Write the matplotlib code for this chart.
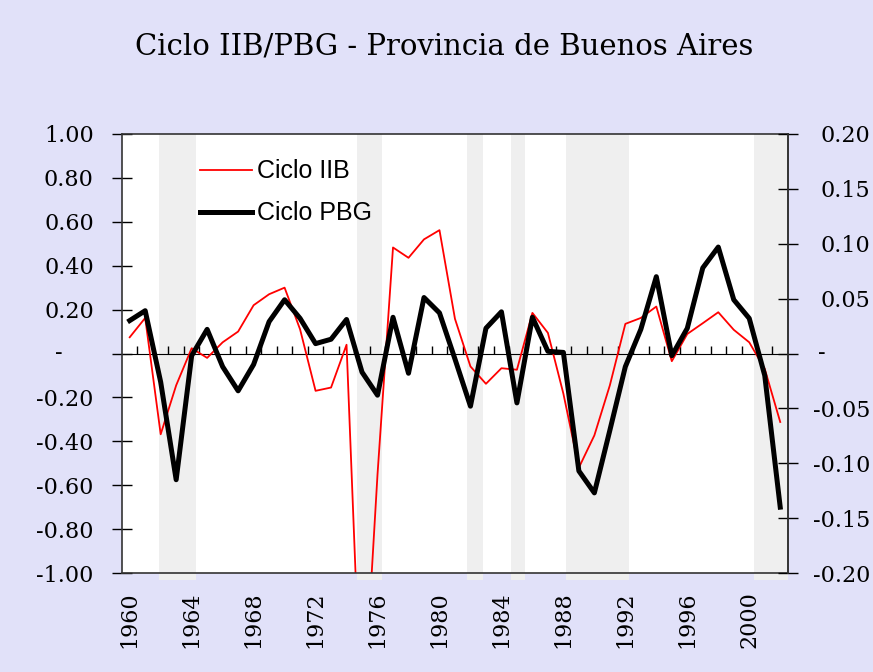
import numpy as np
import matplotlib.pyplot as plt
from matplotlib.transforms import ScaledTranslation

# data
years = list(range(1960, 2003))
ciclo_iib = [0.074, 0.162, -0.368, -0.145, 0.024, -0.02, 0.051, 0.10, 0.22, 0.27,
             0.30, 0.11, -0.17, -0.155, 0.04, -1.75, -0.55, 0.483, 0.436, 0.52,
             0.562, 0.158, -0.059, -0.138, -0.067, -0.074, 0.185, 0.094, -0.183, -0.52,
             -0.373, -0.145, 0.135, 0.162, 0.214, -0.035, 0.089, 0.138, 0.188, 0.108,
             0.051, -0.07, -0.312]
ciclo_pbg = [0.030, 0.039, -0.026, -0.115, -0.002, 0.022, -0.012, -0.034, -0.010, 0.029,
             0.049, 0.032, 0.009, 0.013, 0.031, -0.017, -0.038, 0.033, -0.018, 0.051,
             0.037, -0.005, -0.048, 0.023, 0.038, -0.045, 0.033, 0.002, 0.001, -0.107,
             -0.127, -0.070, -0.012, 0.022, 0.070, -0.002, 0.023, 0.078, 0.097, 0.049,
             0.032, -0.020, -0.140]

# shaded periods
band_start = [1961.9, 1974.65, 1981.8, 1984.6, 1988.15, 2000.3]
band_end = [1964.3, 1976.3, 1982.8, 1985.5, 1992.25, 2002.5]

left_ticks = [-1.0, -0.8, -0.6, -0.4, -0.2, 0.0, 0.2, 0.4, 0.6, 0.8, 1.0]
right_ticks = [-0.20, -0.15, -0.10, -0.05, 0.0, 0.05, 0.10, 0.15, 0.20]
year_ticks = list(range(1960, 2001, 4))

bg = '#E1E1F9'
plt.rcParams['font.family'] = 'DejaVu Serif'


def fmt(v):
    return '-' if abs(v) < 1e-9 else '%.2f' % v


fig = plt.figure(figsize=(8.73, 6.72), dpi=100, facecolor=bg)
ax = fig.add_axes([0.1397, 0.1473, 0.7629, 0.6533])
ax.set_facecolor('white')

for s, e in zip(band_start, band_end):
    ax.axvspan(s, e, ymin=-0.016, ymax=1, color='#EFEFEF', lw=0, zorder=1, clip_on=False)

h1, = ax.plot(years, ciclo_iib, color='#FF0000', lw=1.3, zorder=2)
ax.set_xlim(1959.5, 2002.5)
ax.set_ylim(-1, 1)
ax.set_yticks(left_ticks, labels=[fmt(v) for v in left_ticks])
ax.set_xticks(year_ticks, labels=[str(y) for y in year_ticks])
ax.tick_params(axis='y', direction='inout', length=15, width=1, pad=12.8, labelsize=16)
ax.tick_params(axis='x', length=0, pad=13, labelsize=16, labelrotation=90)

# zero line with yearly ticks
sec = ax.secondary_xaxis(0.5)
yr_edges = np.arange(1960.5, 2002.5, 1)
sec.set_xticks(yr_edges, labels=[''] * len(yr_edges))
sec.tick_params(direction='out', length=6, width=1, color='black')
sec.spines['bottom'].set_linewidth(1)
sec.set_zorder(1.5)

ax2 = ax.twinx()
h2, = ax2.plot(years, ciclo_pbg, color='black', lw=3.6)
ax2.set_ylim(-0.2, 0.2)
ax2.set_yticks(right_ticks, labels=[fmt(v) for v in right_ticks])
ax2.tick_params(axis='y', direction='inout', length=15, width=1, pad=51.5, labelsize=16)
for lab in ax2.get_yticklabels():
    lab.set_ha('right')
    if lab.get_text() == '-':
        lab.set_transform(lab.get_transform() + ScaledTranslation(-0.44, 0.03, fig.dpi_scale_trans))
for lab in ax.get_yticklabels():
    if lab.get_text() == '-':
        lab.set_transform(lab.get_transform() + ScaledTranslation(-0.31, 0.03, fig.dpi_scale_trans))

for sp in ax.spines.values():
    sp.set_color('#333333')
    sp.set_linewidth(1.2)
for k in ['left', 'top', 'bottom']:
    ax2.spines[k].set_visible(False)
ax2.spines['right'].set_color('#333333')
ax2.spines['right'].set_linewidth(1.2)

ax2.legend([h1, h2], ['Ciclo IIB', 'Ciclo PBG'], loc='upper left',
           bbox_to_anchor=(0.229, 0.763), bbox_transform=fig.transFigure,
           frameon=False, prop={'family': 'Liberation Sans', 'size': 18},
           handlelength=2.1, handletextpad=0.2, labelspacing=0.72,
           borderpad=0, borderaxespad=0)

fig.text(0.5086, 1 - 54.3 / 672, 'Ciclo IIB/PBG - Provincia de Buenos Aires',
         ha='center', va='baseline', fontsize=21)

fig.savefig('out.png', dpi=100, facecolor=bg)
